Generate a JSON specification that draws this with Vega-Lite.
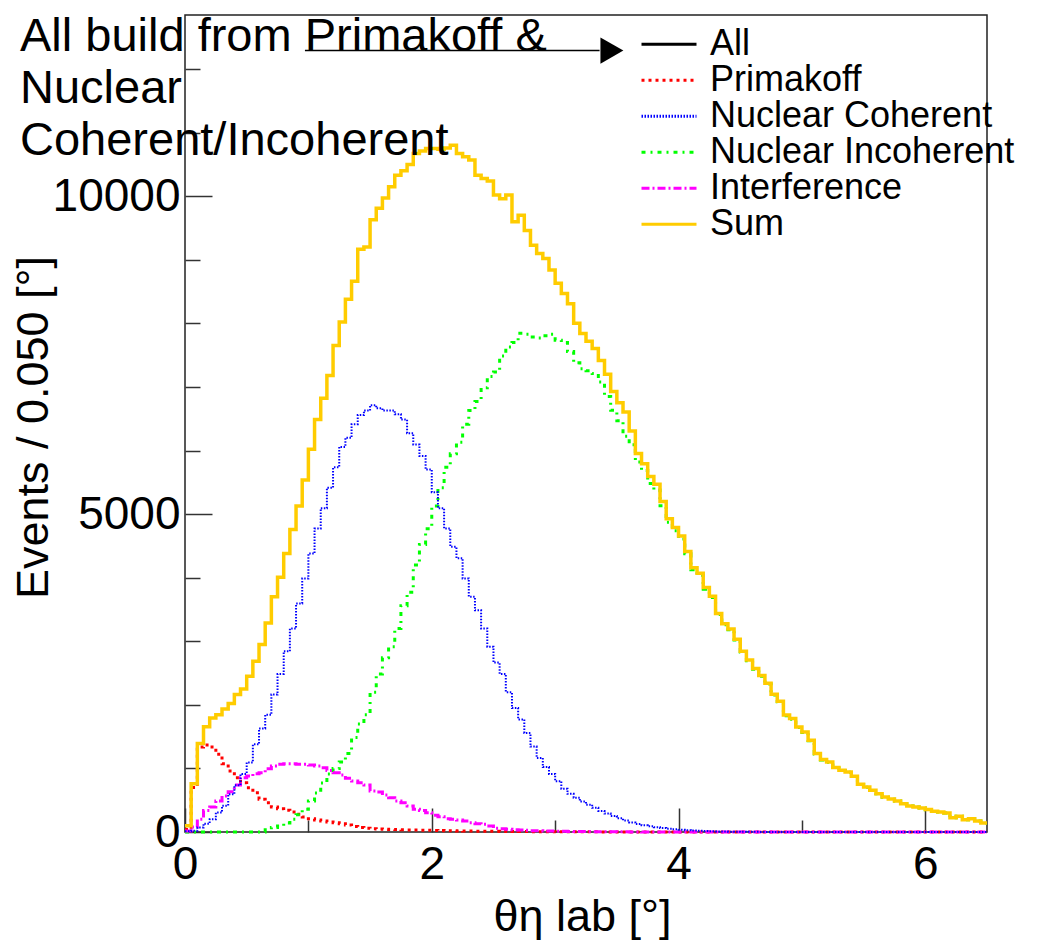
{
  "$schema": "https://vega.github.io/schema/vega-lite/v6.json",
  "width": 802,
  "height": 817,
  "autosize": {"type": "none"},
  "padding": {"left": 185, "top": 15, "right": 58, "bottom": 111},
  "background": "white",
  "config": {
    "font": "Liberation Sans",
    "view": {"stroke": "#222", "strokeWidth": 1.5},
    "axis": {"grid": false, "domain": false, "labelFont": "Liberation Sans", "titleFont": "Liberation Sans", "labelColor": "#000", "titleColor": "#000", "titleFontWeight": "normal", "tickColor": "#333", "tickWidth": 1.5, "labelOverlap": false, "labelFlush": false}
  },
  "title": {"text": ["All build from Primakoff &", "Nuclear", "Coherent/Incoherent"], "anchor": "start", "frame": "group", "orient": "top", "baseline": "top", "offset": 0, "dx": -165, "dy": 150, "fontSize": 47, "font": "Liberation Sans", "fontWeight": "normal", "lineHeight": 52, "color": "#000"},
  "datasets": {
    "arrow": [{"x": 0.972, "xe": 3.36, "v": 12290}],
    "head": [{"x": 3.46, "v": 12290}],
    "h": [
{"x":0,"Primakoff":40,"Nuclear Coherent":10,"Nuclear Incoherent":0,"Interference":15,"Sum":100},
{"x":0.05,"Primakoff":700,"Nuclear Coherent":20,"Nuclear Incoherent":0,"Interference":79,"Sum":757},
{"x":0.1,"Primakoff":1336,"Nuclear Coherent":70,"Nuclear Incoherent":0,"Interference":199,"Sum":1393},
{"x":0.15,"Primakoff":1368,"Nuclear Coherent":130,"Nuclear Incoherent":0,"Interference":340,"Sum":1657},
{"x":0.2,"Primakoff":1336,"Nuclear Coherent":200,"Nuclear Incoherent":0,"Interference":393,"Sum":1793},
{"x":0.25,"Primakoff":1221,"Nuclear Coherent":307,"Nuclear Incoherent":0,"Interference":487,"Sum":1843},
{"x":0.3,"Primakoff":1074,"Nuclear Coherent":414,"Nuclear Incoherent":0,"Interference":566,"Sum":1936},
{"x":0.35,"Primakoff":959,"Nuclear Coherent":593,"Nuclear Incoherent":0,"Interference":634,"Sum":2021},
{"x":0.4,"Primakoff":854,"Nuclear Coherent":736,"Nuclear Incoherent":0,"Interference":739,"Sum":2164},
{"x":0.45,"Primakoff":775,"Nuclear Coherent":914,"Nuclear Incoherent":0,"Interference":854,"Sum":2250},
{"x":0.5,"Primakoff":697,"Nuclear Coherent":1093,"Nuclear Incoherent":0,"Interference":880,"Sum":2450},
{"x":0.55,"Primakoff":618,"Nuclear Coherent":1379,"Nuclear Incoherent":0,"Interference":917,"Sum":2686},
{"x":0.6,"Primakoff":514,"Nuclear Coherent":1629,"Nuclear Incoherent":0,"Interference":933,"Sum":2950},
{"x":0.65,"Primakoff":461,"Nuclear Coherent":1843,"Nuclear Incoherent":36,"Interference":996,"Sum":3286},
{"x":0.7,"Primakoff":393,"Nuclear Coherent":2164,"Nuclear Incoherent":71,"Interference":1038,"Sum":3700},
{"x":0.75,"Primakoff":367,"Nuclear Coherent":2486,"Nuclear Incoherent":93,"Interference":1064,"Sum":4007},
{"x":0.8,"Primakoff":341,"Nuclear Coherent":2843,"Nuclear Incoherent":143,"Interference":1074,"Sum":4379},
{"x":0.85,"Primakoff":314,"Nuclear Coherent":3200,"Nuclear Incoherent":200,"Interference":1074,"Sum":4757},
{"x":0.9,"Primakoff":278,"Nuclear Coherent":3593,"Nuclear Incoherent":271,"Interference":1064,"Sum":5129},
{"x":0.95,"Primakoff":236,"Nuclear Coherent":3986,"Nuclear Incoherent":357,"Interference":1064,"Sum":5536},
{"x":1,"Primakoff":210,"Nuclear Coherent":4379,"Nuclear Incoherent":486,"Interference":1053,"Sum":6021},
{"x":1.05,"Primakoff":189,"Nuclear Coherent":4772,"Nuclear Incoherent":614,"Interference":1038,"Sum":6486},
{"x":1.1,"Primakoff":173,"Nuclear Coherent":5093,"Nuclear Incoherent":771,"Interference":1011,"Sum":6821},
{"x":1.15,"Primakoff":157,"Nuclear Coherent":5414,"Nuclear Incoherent":914,"Interference":969,"Sum":7179},
{"x":1.2,"Primakoff":147,"Nuclear Coherent":5736,"Nuclear Incoherent":1000,"Interference":933,"Sum":7650},
{"x":1.25,"Primakoff":131,"Nuclear Coherent":6057,"Nuclear Incoherent":1100,"Interference":896,"Sum":8021},
{"x":1.3,"Primakoff":110,"Nuclear Coherent":6200,"Nuclear Incoherent":1236,"Interference":844,"Sum":8379},
{"x":1.35,"Primakoff":85,"Nuclear Coherent":6414,"Nuclear Incoherent":1486,"Interference":802,"Sum":8664},
{"x":1.4,"Primakoff":70,"Nuclear Coherent":6557,"Nuclear Incoherent":1700,"Interference":775,"Sum":9164},
{"x":1.45,"Primakoff":60,"Nuclear Coherent":6629,"Nuclear Incoherent":1843,"Interference":739,"Sum":9200},
{"x":1.5,"Primakoff":52,"Nuclear Coherent":6714,"Nuclear Incoherent":2200,"Interference":645,"Sum":9629},
{"x":1.55,"Primakoff":46,"Nuclear Coherent":6664,"Nuclear Incoherent":2486,"Interference":629,"Sum":9810},
{"x":1.6,"Primakoff":42,"Nuclear Coherent":6629,"Nuclear Incoherent":2740,"Interference":582,"Sum":9970},
{"x":1.65,"Primakoff":40,"Nuclear Coherent":6629,"Nuclear Incoherent":2914,"Interference":540,"Sum":10150},
{"x":1.7,"Primakoff":38,"Nuclear Coherent":6571,"Nuclear Incoherent":3200,"Interference":487,"Sum":10330},
{"x":1.75,"Primakoff":36,"Nuclear Coherent":6486,"Nuclear Incoherent":3557,"Interference":461,"Sum":10400},
{"x":1.8,"Primakoff":33,"Nuclear Coherent":6271,"Nuclear Incoherent":3771,"Interference":409,"Sum":10500},
{"x":1.85,"Primakoff":30,"Nuclear Coherent":6093,"Nuclear Incoherent":4200,"Interference":356,"Sum":10670},
{"x":1.9,"Primakoff":28,"Nuclear Coherent":5914,"Nuclear Incoherent":4521,"Interference":340,"Sum":10710},
{"x":1.95,"Primakoff":26,"Nuclear Coherent":5700,"Nuclear Incoherent":4771,"Interference":304,"Sum":10750},
{"x":2,"Primakoff":24,"Nuclear Coherent":5343,"Nuclear Incoherent":5129,"Interference":262,"Sum":10750},
{"x":2.05,"Primakoff":22,"Nuclear Coherent":5093,"Nuclear Incoherent":5414,"Interference":241,"Sum":10740},
{"x":2.1,"Primakoff":20,"Nuclear Coherent":4772,"Nuclear Incoherent":5736,"Interference":210,"Sum":10760},
{"x":2.15,"Primakoff":18,"Nuclear Coherent":4486,"Nuclear Incoherent":5950,"Interference":199,"Sum":10800},
{"x":2.2,"Primakoff":16,"Nuclear Coherent":4307,"Nuclear Incoherent":6129,"Interference":189,"Sum":10670},
{"x":2.25,"Primakoff":15,"Nuclear Coherent":3986,"Nuclear Incoherent":6414,"Interference":173,"Sum":10620},
{"x":2.3,"Primakoff":14,"Nuclear Coherent":3700,"Nuclear Incoherent":6629,"Interference":147,"Sum":10570},
{"x":2.35,"Primakoff":13,"Nuclear Coherent":3486,"Nuclear Incoherent":6771,"Interference":131,"Sum":10330},
{"x":2.4,"Primakoff":12,"Nuclear Coherent":3200,"Nuclear Incoherent":6986,"Interference":120,"Sum":10280},
{"x":2.45,"Primakoff":11,"Nuclear Coherent":2914,"Nuclear Incoherent":7164,"Interference":94,"Sum":10240},
{"x":2.5,"Primakoff":10,"Nuclear Coherent":2664,"Nuclear Incoherent":7236,"Interference":58,"Sum":10020},
{"x":2.55,"Primakoff":9,"Nuclear Coherent":2486,"Nuclear Incoherent":7486,"Interference":52,"Sum":9960},
{"x":2.6,"Primakoff":8,"Nuclear Coherent":2200,"Nuclear Incoherent":7629,"Interference":42,"Sum":10020},
{"x":2.65,"Primakoff":7,"Nuclear Coherent":1950,"Nuclear Incoherent":7700,"Interference":36,"Sum":9600},
{"x":2.7,"Primakoff":6,"Nuclear Coherent":1771,"Nuclear Incoherent":7843,"Interference":33,"Sum":9700},
{"x":2.75,"Primakoff":6,"Nuclear Coherent":1557,"Nuclear Incoherent":7829,"Interference":26,"Sum":9460},
{"x":2.8,"Primakoff":5,"Nuclear Coherent":1343,"Nuclear Incoherent":7786,"Interference":21,"Sum":9230},
{"x":2.85,"Primakoff":5,"Nuclear Coherent":1164,"Nuclear Incoherent":7771,"Interference":19,"Sum":9100},
{"x":2.9,"Primakoff":4,"Nuclear Coherent":1021,"Nuclear Incoherent":7807,"Interference":16,"Sum":9020},
{"x":2.95,"Primakoff":4,"Nuclear Coherent":914,"Nuclear Incoherent":7829,"Interference":14,"Sum":8840},
{"x":3,"Primakoff":3,"Nuclear Coherent":800,"Nuclear Incoherent":7736,"Interference":12,"Sum":8630},
{"x":3.05,"Primakoff":3,"Nuclear Coherent":680,"Nuclear Incoherent":7700,"Interference":10,"Sum":8470},
{"x":3.1,"Primakoff":3,"Nuclear Coherent":600,"Nuclear Incoherent":7557,"Interference":9,"Sum":8310},
{"x":3.15,"Primakoff":2,"Nuclear Coherent":540,"Nuclear Incoherent":7379,"Interference":8,"Sum":8000},
{"x":3.2,"Primakoff":2,"Nuclear Coherent":480,"Nuclear Incoherent":7286,"Interference":7,"Sum":7840},
{"x":3.25,"Primakoff":2,"Nuclear Coherent":430,"Nuclear Incoherent":7255,"Interference":6,"Sum":7720},
{"x":3.3,"Primakoff":2,"Nuclear Coherent":380,"Nuclear Incoherent":7211,"Interference":5,"Sum":7605},
{"x":3.35,"Primakoff":1,"Nuclear Coherent":330,"Nuclear Incoherent":7076,"Interference":4,"Sum":7417},
{"x":3.4,"Primakoff":1,"Nuclear Coherent":290,"Nuclear Incoherent":6849,"Interference":3,"Sum":7201},
{"x":3.45,"Primakoff":1,"Nuclear Coherent":250,"Nuclear Incoherent":6632,"Interference":3,"Sum":6930},
{"x":3.5,"Primakoff":1,"Nuclear Coherent":215,"Nuclear Incoherent":6470,"Interference":2,"Sum":6751},
{"x":3.55,"Primakoff":1,"Nuclear Coherent":180,"Nuclear Incoherent":6226,"Interference":2,"Sum":6605},
{"x":3.6,"Primakoff":0,"Nuclear Coherent":150,"Nuclear Incoherent":6091,"Interference":1,"Sum":6307},
{"x":3.65,"Primakoff":0,"Nuclear Coherent":125,"Nuclear Incoherent":5820,"Interference":1,"Sum":5955},
{"x":3.7,"Primakoff":0,"Nuclear Coherent":105,"Nuclear Incoherent":5685,"Interference":0,"Sum":5793},
{"x":3.75,"Primakoff":0,"Nuclear Coherent":90,"Nuclear Incoherent":5480,"Interference":0,"Sum":5593},
{"x":3.8,"Primakoff":0,"Nuclear Coherent":75,"Nuclear Incoherent":5380,"Interference":0,"Sum":5468},
{"x":3.85,"Primakoff":0,"Nuclear Coherent":62,"Nuclear Incoherent":5130,"Interference":0,"Sum":5197},
{"x":3.9,"Primakoff":0,"Nuclear Coherent":52,"Nuclear Incoherent":4870,"Interference":0,"Sum":4927},
{"x":3.95,"Primakoff":0,"Nuclear Coherent":42,"Nuclear Incoherent":4740,"Interference":0,"Sum":4791},
{"x":4,"Primakoff":0,"Nuclear Coherent":34,"Nuclear Incoherent":4610,"Interference":0,"Sum":4656},
{"x":4.05,"Primakoff":0,"Nuclear Coherent":28,"Nuclear Incoherent":4375,"Interference":0,"Sum":4412},
{"x":4.1,"Primakoff":0,"Nuclear Coherent":22,"Nuclear Incoherent":4125,"Interference":0,"Sum":4158},
{"x":4.15,"Primakoff":0,"Nuclear Coherent":18,"Nuclear Incoherent":4040,"Interference":0,"Sum":4071},
{"x":4.2,"Primakoff":0,"Nuclear Coherent":14,"Nuclear Incoherent":3820,"Interference":0,"Sum":3844},
{"x":4.25,"Primakoff":0,"Nuclear Coherent":10,"Nuclear Incoherent":3690,"Interference":0,"Sum":3709},
{"x":4.3,"Primakoff":0,"Nuclear Coherent":8,"Nuclear Incoherent":3420,"Interference":0,"Sum":3438},
{"x":4.35,"Primakoff":0,"Nuclear Coherent":6,"Nuclear Incoherent":3260,"Interference":0,"Sum":3275},
{"x":4.4,"Primakoff":0,"Nuclear Coherent":5,"Nuclear Incoherent":3180,"Interference":0,"Sum":3194},
{"x":4.45,"Primakoff":0,"Nuclear Coherent":4,"Nuclear Incoherent":3020,"Interference":0,"Sum":3032},
{"x":4.5,"Primakoff":0,"Nuclear Coherent":3,"Nuclear Incoherent":2830,"Interference":0,"Sum":2842},
{"x":4.55,"Primakoff":0,"Nuclear Coherent":2,"Nuclear Incoherent":2695,"Interference":0,"Sum":2707},
{"x":4.6,"Primakoff":0,"Nuclear Coherent":2,"Nuclear Incoherent":2560,"Interference":0,"Sum":2572},
{"x":4.65,"Primakoff":0,"Nuclear Coherent":1,"Nuclear Incoherent":2450,"Interference":0,"Sum":2463},
{"x":4.7,"Primakoff":0,"Nuclear Coherent":1,"Nuclear Incoherent":2328,"Interference":0,"Sum":2339},
{"x":4.75,"Primakoff":0,"Nuclear Coherent":0,"Nuclear Incoherent":2155,"Interference":0,"Sum":2166},
{"x":4.8,"Primakoff":0,"Nuclear Coherent":0,"Nuclear Incoherent":2047,"Interference":0,"Sum":2057},
{"x":4.85,"Primakoff":0,"Nuclear Coherent":0,"Nuclear Incoherent":1830,"Interference":0,"Sum":1840},
{"x":4.9,"Primakoff":0,"Nuclear Coherent":0,"Nuclear Incoherent":1775,"Interference":0,"Sum":1784},
{"x":4.95,"Primakoff":0,"Nuclear Coherent":0,"Nuclear Incoherent":1645,"Interference":0,"Sum":1653},
{"x":5,"Primakoff":0,"Nuclear Coherent":0,"Nuclear Incoherent":1566,"Interference":0,"Sum":1574},
{"x":5.05,"Primakoff":0,"Nuclear Coherent":0,"Nuclear Incoherent":1436,"Interference":0,"Sum":1443},
{"x":5.1,"Primakoff":0,"Nuclear Coherent":0,"Nuclear Incoherent":1227,"Interference":0,"Sum":1233},
{"x":5.15,"Primakoff":0,"Nuclear Coherent":0,"Nuclear Incoherent":1133,"Interference":0,"Sum":1139},
{"x":5.2,"Primakoff":0,"Nuclear Coherent":0,"Nuclear Incoherent":1096,"Interference":0,"Sum":1102},
{"x":5.25,"Primakoff":0,"Nuclear Coherent":0,"Nuclear Incoherent":1008,"Interference":0,"Sum":1013},
{"x":5.3,"Primakoff":0,"Nuclear Coherent":0,"Nuclear Incoherent":966,"Interference":0,"Sum":971},
{"x":5.35,"Primakoff":0,"Nuclear Coherent":0,"Nuclear Incoherent":940,"Interference":0,"Sum":945},
{"x":5.4,"Primakoff":0,"Nuclear Coherent":0,"Nuclear Incoherent":872,"Interference":0,"Sum":876},
{"x":5.45,"Primakoff":0,"Nuclear Coherent":0,"Nuclear Incoherent":746,"Interference":0,"Sum":750},
{"x":5.5,"Primakoff":0,"Nuclear Coherent":0,"Nuclear Incoherent":705,"Interference":0,"Sum":708},
{"x":5.55,"Primakoff":0,"Nuclear Coherent":0,"Nuclear Incoherent":653,"Interference":0,"Sum":656},
{"x":5.6,"Primakoff":0,"Nuclear Coherent":0,"Nuclear Incoherent":600,"Interference":0,"Sum":603},
{"x":5.65,"Primakoff":0,"Nuclear Coherent":0,"Nuclear Incoherent":548,"Interference":0,"Sum":551},
{"x":5.7,"Primakoff":0,"Nuclear Coherent":0,"Nuclear Incoherent":517,"Interference":0,"Sum":520},
{"x":5.75,"Primakoff":0,"Nuclear Coherent":0,"Nuclear Incoherent":486,"Interference":0,"Sum":488},
{"x":5.8,"Primakoff":0,"Nuclear Coherent":0,"Nuclear Incoherent":444,"Interference":0,"Sum":446},
{"x":5.85,"Primakoff":0,"Nuclear Coherent":0,"Nuclear Incoherent":407,"Interference":0,"Sum":409},
{"x":5.9,"Primakoff":0,"Nuclear Coherent":0,"Nuclear Incoherent":392,"Interference":0,"Sum":394},
{"x":5.95,"Primakoff":0,"Nuclear Coherent":0,"Nuclear Incoherent":376,"Interference":0,"Sum":378},
{"x":6,"Primakoff":0,"Nuclear Coherent":0,"Nuclear Incoherent":350,"Interference":0,"Sum":352},
{"x":6.05,"Primakoff":0,"Nuclear Coherent":0,"Nuclear Incoherent":323,"Interference":0,"Sum":325},
{"x":6.1,"Primakoff":0,"Nuclear Coherent":0,"Nuclear Incoherent":313,"Interference":0,"Sum":315},
{"x":6.15,"Primakoff":0,"Nuclear Coherent":0,"Nuclear Incoherent":297,"Interference":0,"Sum":299},
{"x":6.2,"Primakoff":0,"Nuclear Coherent":0,"Nuclear Incoherent":225,"Interference":0,"Sum":226},
{"x":6.25,"Primakoff":0,"Nuclear Coherent":0,"Nuclear Incoherent":246,"Interference":0,"Sum":247},
{"x":6.3,"Primakoff":0,"Nuclear Coherent":0,"Nuclear Incoherent":193,"Interference":0,"Sum":194},
{"x":6.35,"Primakoff":0,"Nuclear Coherent":0,"Nuclear Incoherent":209,"Interference":0,"Sum":210},
{"x":6.4,"Primakoff":0,"Nuclear Coherent":0,"Nuclear Incoherent":172,"Interference":0,"Sum":173},
{"x":6.45,"Primakoff":0,"Nuclear Coherent":0,"Nuclear Incoherent":139,"Interference":0,"Sum":140},
{"x":6.5,"Primakoff":0,"Nuclear Coherent":0,"Nuclear Incoherent":139,"Interference":0,"Sum":140}
    ]
  },
  "encoding": {
    "x": {
      "field": "x", "type": "quantitative",
      "scale": {"domain": [0, 6.5], "nice": false, "zero": false},
      "axis": {
        "values": [0, 0.5, 1, 1.5, 2, 2.5, 3, 3.5, 4, 4.5, 5, 5.5, 6],
        "format": "d",
        "labelExpr": "datum.value % 2 === 0 ? datum.label : ''",
        "tickSize": {"condition": {"test": "datum.value % 2 === 0", "value": -24}, "value": -12},
        "labelFontSize": 46, "labelPadding": 34,
        "title": "θη lab [°]", "titleFontSize": 45, "titleX": 397, "titleY": 98, "titleBaseline": "alphabetic"
      }
    },
    "y": {
      "field": "v", "type": "quantitative",
      "scale": {"domain": [0, 12850], "nice": false},
      "axis": {
        "values": [0, 1000, 2000, 3000, 4000, 5000, 6000, 7000, 8000, 9000, 10000, 11000, 12000],
        "format": "d",
        "labelExpr": "datum.value % 5000 === 0 ? datum.label : ''",
        "tickSize": {"condition": {"test": "datum.value % 5000 === 0", "value": -27}, "value": -15},
        "labelFontSize": 46, "labelPadding": 32,
        "title": "Events / 0.050 [°]", "titleFontSize": 45, "titleX": -129, "titleY": 412
      }
    }
  },
  "layer": [
    {
      "data": {"name": "h"},
      "transform": [
        {"fold": ["Primakoff", "Nuclear Coherent", "Nuclear Incoherent", "Interference", "Sum"], "as": ["key", "v"]},
        {"filter": "datum.key === 'Primakoff' || datum.key === 'Nuclear Incoherent' || datum.key === 'Interference'"}
      ],
      "mark": {"type": "line", "interpolate": "step-after", "strokeWidth": 3},
      "encoding": {
        "color": {"field": "key", "type": "nominal",
          "scale": {"domain": ["All", "Primakoff", "Nuclear Coherent", "Nuclear Incoherent", "Interference", "Sum"], "range": ["#000000", "#ff0000", "#0000ff", "#00ff00", "#ff00ff", "#ffcc00"]},
          "legend": {"title": null, "orient": "none", "legendX": 455, "legendY": 12, "symbolType": "stroke", "symbolSize": 3025, "symbolStrokeWidth": 3, "labelFontSize": 36, "labelFont": "Liberation Sans", "labelColor": "#000", "labelOffset": 12, "rowPadding": -4, "clipHeight": 34.5, "labelLimit": 500, "padding": 0, "labelBaseline": "middle"}},
        "strokeDash": {"field": "key", "type": "nominal",
          "scale": {"domain": ["All", "Primakoff", "Nuclear Coherent", "Nuclear Incoherent", "Interference", "Sum"], "range": [[1, 0], [3, 4], [1.5, 1.5], [4, 5, 2, 5], [8, 3, 2, 3], [1, 0]]},
          "legend": {"title": null, "orient": "none", "legendX": 455, "legendY": 12, "symbolType": "stroke", "symbolSize": 3025, "symbolStrokeWidth": 3, "labelFontSize": 36, "labelFont": "Liberation Sans", "labelColor": "#000", "labelOffset": 12, "rowPadding": -4, "clipHeight": 34.5, "labelLimit": 500, "padding": 0, "labelBaseline": "middle"}}
      }
    },
    {
      "data": {"name": "h"},
      "transform": [
        {"fold": ["Primakoff", "Nuclear Coherent", "Nuclear Incoherent", "Interference", "Sum"], "as": ["key", "v"]},
        {"filter": "datum.key === 'Nuclear Coherent'"}
      ],
      "mark": {"type": "line", "interpolate": "step-after", "strokeWidth": 2},
      "encoding": {
        "color": {"field": "key", "type": "nominal",
          "scale": {"domain": ["All", "Primakoff", "Nuclear Coherent", "Nuclear Incoherent", "Interference", "Sum"], "range": ["#000000", "#ff0000", "#0000ff", "#00ff00", "#ff00ff", "#ffcc00"]},
          "legend": {"title": null, "orient": "none", "legendX": 455, "legendY": 12, "symbolType": "stroke", "symbolSize": 3025, "symbolStrokeWidth": 3, "labelFontSize": 36, "labelFont": "Liberation Sans", "labelColor": "#000", "labelOffset": 12, "rowPadding": -4, "clipHeight": 34.5, "labelLimit": 500, "padding": 0, "labelBaseline": "middle"}},
        "strokeDash": {"field": "key", "type": "nominal",
          "scale": {"domain": ["All", "Primakoff", "Nuclear Coherent", "Nuclear Incoherent", "Interference", "Sum"], "range": [[1, 0], [3, 4], [1.5, 1.5], [4, 5, 2, 5], [8, 3, 2, 3], [1, 0]]},
          "legend": {"title": null, "orient": "none", "legendX": 455, "legendY": 12, "symbolType": "stroke", "symbolSize": 3025, "symbolStrokeWidth": 3, "labelFontSize": 36, "labelFont": "Liberation Sans", "labelColor": "#000", "labelOffset": 12, "rowPadding": -4, "clipHeight": 34.5, "labelLimit": 500, "padding": 0, "labelBaseline": "middle"}}
      }
    },
    {
      "data": {"name": "h"},
      "transform": [
        {"fold": ["Primakoff", "Nuclear Coherent", "Nuclear Incoherent", "Interference", "Sum"], "as": ["key", "v"]},
        {"filter": "datum.key === 'Sum'"}
      ],
      "mark": {"type": "line", "interpolate": "step-after", "strokeWidth": 3.5},
      "encoding": {
        "color": {"field": "key", "type": "nominal",
          "scale": {"domain": ["All", "Primakoff", "Nuclear Coherent", "Nuclear Incoherent", "Interference", "Sum"], "range": ["#000000", "#ff0000", "#0000ff", "#00ff00", "#ff00ff", "#ffcc00"]},
          "legend": {"title": null, "orient": "none", "legendX": 455, "legendY": 12, "symbolType": "stroke", "symbolSize": 3025, "symbolStrokeWidth": 3, "labelFontSize": 36, "labelFont": "Liberation Sans", "labelColor": "#000", "labelOffset": 12, "rowPadding": -4, "clipHeight": 34.5, "labelLimit": 500, "padding": 0, "labelBaseline": "middle"}},
        "strokeDash": {"field": "key", "type": "nominal",
          "scale": {"domain": ["All", "Primakoff", "Nuclear Coherent", "Nuclear Incoherent", "Interference", "Sum"], "range": [[1, 0], [3, 4], [1.5, 1.5], [4, 5, 2, 5], [8, 3, 2, 3], [1, 0]]},
          "legend": {"title": null, "orient": "none", "legendX": 455, "legendY": 12, "symbolType": "stroke", "symbolSize": 3025, "symbolStrokeWidth": 3, "labelFontSize": 36, "labelFont": "Liberation Sans", "labelColor": "#000", "labelOffset": 12, "rowPadding": -4, "clipHeight": 34.5, "labelLimit": 500, "padding": 0, "labelBaseline": "middle"}}
      }
    },
    {
      "data": {"name": "arrow"},
      "mark": {"type": "rule", "color": "#000", "strokeWidth": 1.5},
      "encoding": {"x2": {"field": "xe"}}
    },
    {
      "data": {"name": "head"},
      "mark": {"type": "point", "shape": "triangle-right", "filled": true, "color": "#000", "opacity": 1, "size": 700},
      "encoding": {}
    }
  ]
}
